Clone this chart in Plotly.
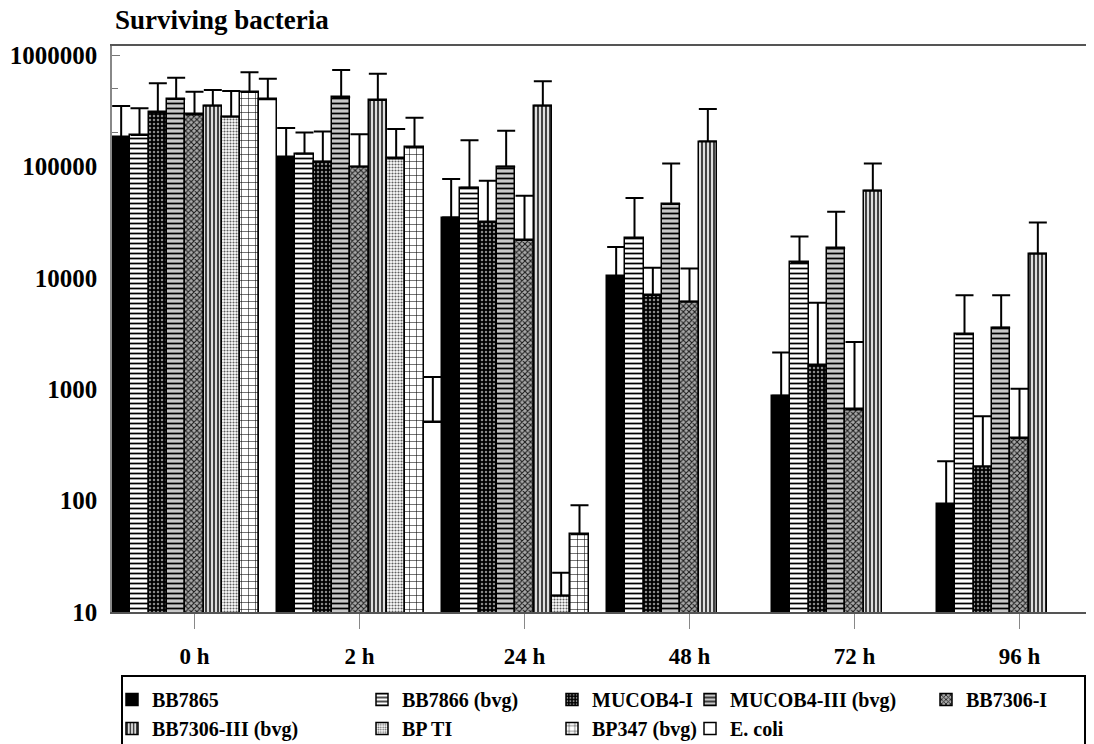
import plotly.graph_objects as go

# ---- data ----
times = ["0 h", "2 h", "24 h", "48 h", "72 h", "96 h"]
strains = ["BB7865", "BB7866 (bvg)", "MUCOB4-I", "MUCOB4-III (bvg)", "BB7306-I",
           "BB7306-III (bvg)", "BP TI", "BP347 (bvg)", "E. coli"]

bb7865 = [182000, 121000, 34700, 10400, 875, 93]
bb7866 = [191000, 130000, 64400, 22800, 13800, 3110]
mucob4_i = [306000, 110000, 31700, 7010, 1650, 202]
mucob4_iii = [403000, 417000, 99500, 45900, 18400, 3570]
bb7306_i = [293000, 99500, 21800, 6110, 659, 362]
bb7306_iii = [351000, 394000, 351000, 167000, 60500, 16400]
bp_ti = [279000, 118000, 14, None, None, None]
bp347 = [465000, 148000, 50, None, None, None]
e_coli = [400000, 508, None, None, None, None]

# upper end of the error bars
bb7865_hi = [348000, 221000, 77100, 18900, 2140, 226]
bb7866_hi = [332000, 202000, 172000, 52000, 23500, 6960]
mucob4_i_hi = [557000, 206000, 74500, 12300, 5980, 571]
mucob4_iii_hi = [625000, 733000, 209000, 106000, 39200, 6960]
bb7306_i_hi = [469000, 194000, 54600, 12100, 2650, 1010]
bb7306_iii_hi = [485000, 679000, 581000, 328000, 106000, 31300]
bp_ti_hi = [475000, 217000, 22.5, None, None, None]
bp347_hi = [699000, 274000, 91, None, None, None]
e_coli_hi = [613000, 1290, None, None, None, None]

values = [bb7865, bb7866, mucob4_i, mucob4_iii, bb7306_i, bb7306_iii, bp_ti, bp347, e_coli]
uppers = [bb7865_hi, bb7866_hi, mucob4_i_hi, mucob4_iii_hi, bb7306_i_hi, bb7306_iii_hi,
          bp_ti_hi, bp347_hi, e_coli_hi]

# ---- styles ----
styles = [
    dict(color="black", pattern=None),
    dict(color="white", pattern=dict(shape="-", fgcolor="black", bgcolor="white", size=5, solidity=0.35)),
    dict(color="black", pattern=dict(shape=".", fgcolor="#8a8a8a", bgcolor="black", size=4, solidity=0.3)),
    dict(color="#c4c4c4", pattern=dict(shape="-", fgcolor="black", bgcolor="#c8c8c8", size=5, solidity=0.35)),
    dict(color="#555555", pattern=dict(shape="x", fgcolor="#1a1a1a", bgcolor="#a8a8a8", size=4, solidity=0.45)),
    dict(color="#dddddd", pattern=dict(shape="|", fgcolor="black", bgcolor="#dedede", size=4, solidity=0.35)),
    dict(color="#dddddd", pattern=dict(shape=".", fgcolor="#606060", bgcolor="white", size=3, solidity=0.4)),
    dict(color="white", pattern=dict(shape="+", fgcolor="black", bgcolor="white", size=7, solidity=0.15)),
    dict(color="white", pattern=None),
]
legend_ids = ["legend", "legend2", "legend3", "legend4", "legend5",
              "legend", "legend2", "legend3", "legend4"]

FONT = "Liberation Serif"

fig = go.Figure()
for name, vals, his, st, lg in zip(strains, values, uppers, styles, legend_ids):
    plus = [(h - v) if (v is not None and h is not None) else None for v, h in zip(vals, his)]
    minus = [0 if v is not None else None for v in vals]
    marker = dict(color=st["color"], line=dict(color="black", width=1.5))
    if st["pattern"] is not None:
        marker["pattern"] = dict(fillmode="replace", **st["pattern"])
    fig.add_trace(go.Bar(
        x=times, y=vals, name=name, legend=lg, marker=marker,
        error_y=dict(type="data", symmetric=False, array=plus, arrayminus=minus,
                     color="black", thickness=2, width=9),
    ))

# the page body adds an 8px offset; figure coordinates below account for that
OFF = 8
W, H = 1094, 744
L, R, T, B = 112 - OFF, 0, 46 - OFF, H - (612 - OFF)
pw = W - L - R
ph = H - T - B
cat_px = 165.0
x_hi = -0.5 + pw / cat_px


def py(page_y):
    return ((612 - OFF) - (page_y - OFF)) / ph


def px(page_x):
    return (page_x - 112) / pw


fig.update_layout(
    width=W, height=H,
    margin=dict(l=L, r=R, t=T, b=B, autoexpand=False),
    paper_bgcolor="white", plot_bgcolor="white",
    barmode="group", bargap=0, bargroupgap=0,
    font=dict(family=FONT, color="black", size=20),
    xaxis=dict(range=[-0.5, x_hi], showline=True, linecolor="#555555", linewidth=1.5,
               mirror=True, ticks="outside", ticklen=15, tickcolor="#888888", tickwidth=1,
               tickfont=dict(family=FONT, size=23, color="black"), showgrid=False,
               ticklabelstandoff=8,
               tickvals=times, ticktext=["<b>%s</b>" % t for t in times]),
    yaxis=dict(type="log", range=[1, 6 + 9 / 111.4], showline=True, linecolor="#888888",
               linewidth=1.5, ticks="inside", ticklen=8, tickcolor="#777777", showgrid=False,
               layer="below traces",
               tickvals=[10, 100, 1000, 10000, 100000, 1000000],
               ticktext=["<b>%d</b>" % v for v in [10, 100, 1000, 10000, 100000, 1000000]],
               tickfont=dict(family=FONT, size=25, color="black"), ticklabelstandoff=8,
               minor=dict(ticks="inside", ticklen=6, tickcolor="#777777", showgrid=False)),
    showlegend=True,
)

# title as an annotation
fig.add_annotation(text="<b>Surviving bacteria</b>", xref="paper", yref="paper",
                   x=px(113), y=py(20), xanchor="left", yanchor="middle",
                   showarrow=False, font=dict(family=FONT, size=27, color="black"))

leg_cols_px = [112, 362, 552, 690, 926]
for i, lx in enumerate(leg_cols_px):
    key = "legend" if i == 0 else "legend%d" % (i + 1)
    fig.layout[key] = dict(
        x=px(lx), xanchor="left", y=py(680), yanchor="top",
        xref="paper", yref="paper",
        orientation="v", bgcolor="rgba(0,0,0,0)", borderwidth=0,
        font=dict(family=FONT, size=20, color="black", weight="bold"),
        itemwidth=30, tracegroupgap=0,
    )

# legend frame
fig.add_shape(type="rect", xref="paper", yref="paper",
              x0=px(122), x1=px(1085), y0=py(676), y1=py(790),
              line=dict(color="black", width=2), fillcolor="rgba(0,0,0,0)")

fig.write_html("out.html")
